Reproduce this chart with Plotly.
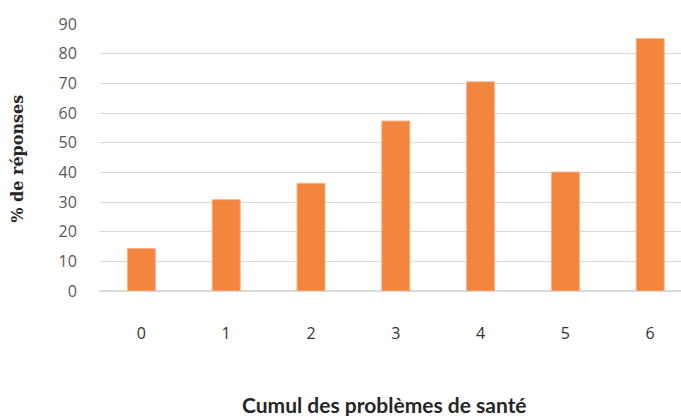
import plotly.graph_objects as go

# Number of cumulated health problems and share of answers (%)
categories = ["0", "1", "2", "3", "4", "5", "6"]
values = [14.3, 30.8, 36.3, 57.3, 70.5, 40.1, 85.1]
y_ticks = [0, 10, 20, 30, 40, 50, 60, 70, 80, 90]

W, H = 681, 416
left, right, top, bottom = 99, 0, 24, 124.5
plot_w = W - left - right
plot_h = H - top - bottom

fig = go.Figure(
    go.Bar(
        x=list(range(len(categories))),
        y=values,
        width=0.33,
        marker=dict(color="#F2843E", line=dict(color="#F7B48A", width=1)),
    )
)

fig.update_layout(
    width=W,
    height=H,
    margin=dict(l=left, r=right, t=top, b=bottom, pad=0),
    paper_bgcolor="white",
    plot_bgcolor="white",
    showlegend=False,
    font=dict(family="Open Sans", size=16, color="#595959"),
    xaxis=dict(
        range=[-0.5, -0.5 + plot_w / 84.8],
        tickmode="array",
        tickvals=list(range(len(categories))),
        ticktext=categories,
        showgrid=False,
        showline=False,
        zeroline=False,
        ticks="outside",
        ticklen=28,
        tickcolor="rgba(0,0,0,0)",
        tickfont=dict(family="Open Sans", size=16, color="#333333"),
    ),
    yaxis=dict(
        range=[0, 90],
        tickmode="array",
        tickvals=y_ticks,
        showgrid=True,
        gridcolor="#d9d9d9",
        gridwidth=1,
        zeroline=True,
        zerolinecolor="#d9d9d9",
        zerolinewidth=2,
        showline=False,
        ticks="outside",
        ticklen=18,
        tickcolor="rgba(0,0,0,0)",
        tickfont=dict(family="Open Sans", size=16, color="#595959"),
    ),
    annotations=[
        dict(
            text="<b>Cumul des problèmes de santé</b>",
            xref="paper", yref="paper",
            x=(384 - left) / plot_w, y=(H - bottom - 405) / plot_h,
            xanchor="center", yanchor="middle",
            showarrow=False,
            font=dict(family="Lato", size=21, color="#262626"),
        ),
        dict(
            text="<b>% de réponses</b>",
            xref="paper", yref="paper",
            x=(18 - left) / plot_w, y=(H - bottom - 159) / plot_h,
            xanchor="center", yanchor="middle",
            textangle=-90,
            showarrow=False,
            font=dict(family="DejaVu Serif", size=16, color="#262626"),
        ),
    ],
)

fig.write_html("out.html")
